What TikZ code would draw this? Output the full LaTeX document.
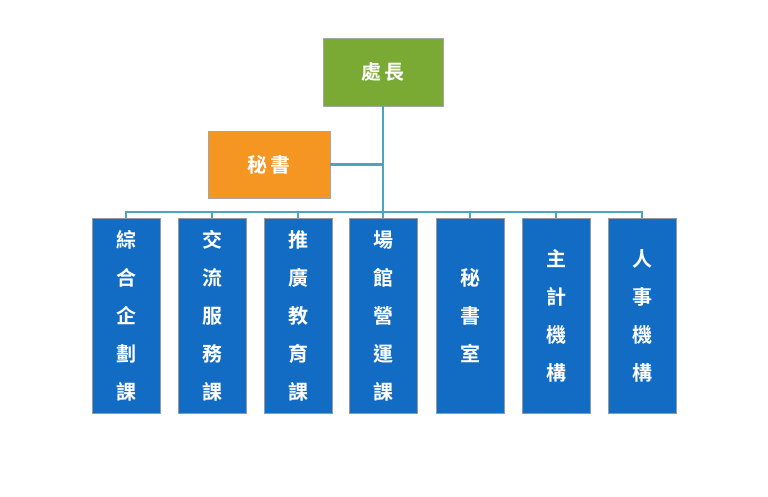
\documentclass[tikz,border=0pt]{standalone}
\usepackage{fontspec}
\newfontfamily\cjk{Noto Sans CJK TC Bold}
\usetikzlibrary{positioning}
\definecolor{unitblue}{RGB}{18,108,196}
\definecolor{headgreen}{RGB}{122,170,52}
\definecolor{secorange}{RGB}{245,150,35}
\definecolor{linkteal}{RGB}{75,165,190}
\begin{document}
\begin{tikzpicture}[x=1pt,y=-1pt,
  head/.style={draw=black!35,fill=headgreen,minimum width=120pt,minimum height=68pt,
    text=white,font=\cjk\fontsize{20}{20}\selectfont},
  unit/.style={draw=black!40,fill=unitblue,minimum width=68pt,minimum height=195pt,
    text=white,font=\cjk\fontsize{20}{38}\selectfont,align=center,anchor=north},
  link/.style={draw=linkteal,line width=2.5pt}]
\useasboundingbox (0,0) rectangle (768,496);

\node[head] (chief) at (383,72) {處\,長};
\node[head,fill=secorange,minimum width=122pt,minimum height=67pt] (sec) at (269,164.5) {秘\,書};

\node[unit] (u1) at (126,218) {綜\\合\\企\\劃\\課};
\node[unit] (u2) at (212,218) {交\\流\\服\\務\\課};
\node[unit] (u3) at (298,218) {推\\廣\\教\\育\\課};
\node[unit] (u4) at (383,218) {場\\館\\營\\運\\課};
\node[unit] (u5) at (470,218) {秘\\書\\室};
\node[unit] (u6) at (556,218) {主\\計\\機\\構};
\node[unit] (u7) at (642,218) {人\\事\\機\\構};

\coordinate (hub) at (383,212);
\draw[link] (chief.south) -- (hub);
\draw[link] (sec.east) -- (sec.east -| hub);
\draw[link] (u1.north) |- (hub) -| (u7.north);
\foreach \u in {u2,u3,u4,u5,u6}
  \draw[link] (\u.north) -- (\u.north |- hub);
\end{tikzpicture}
\end{document}
